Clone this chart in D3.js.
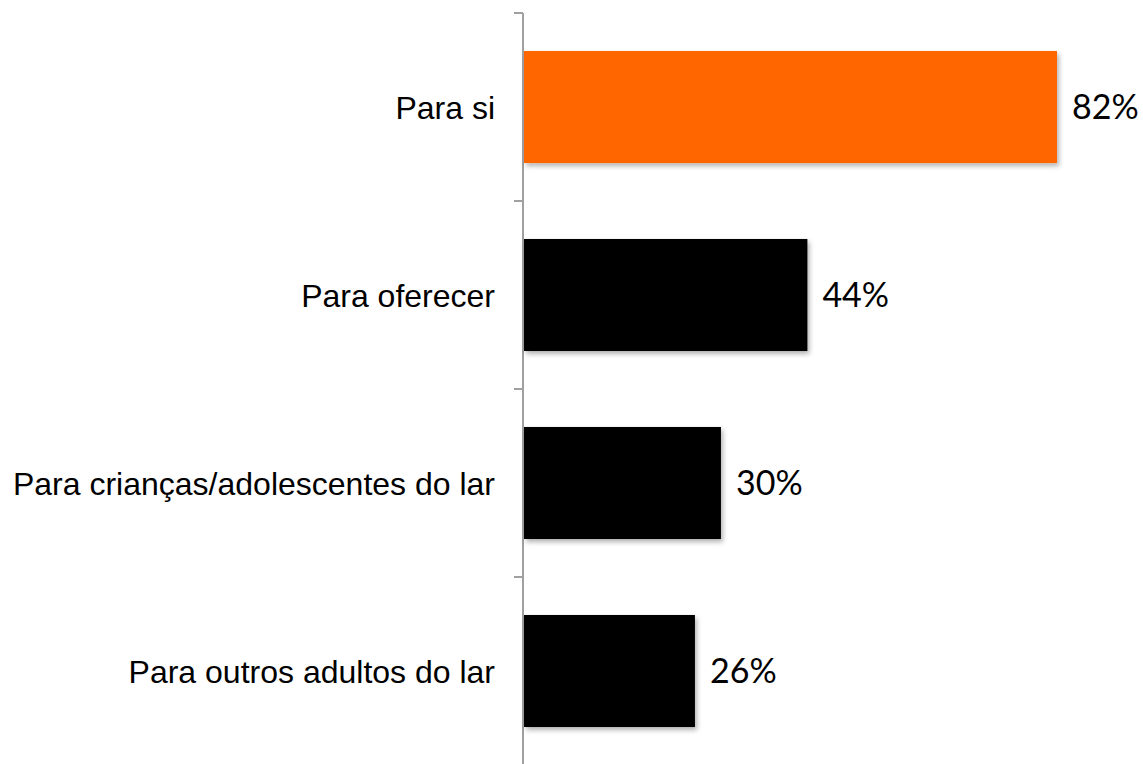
<!DOCTYPE html>
<html><head><meta charset="utf-8">
<script src="https://cdn.jsdelivr.net/npm/d3@7"></script>
<style>html,body{margin:0;padding:0;background:#fff;}svg{display:block;}</style>
</head><body>
<svg id="chart" width="1143" height="764"></svg>
<script>
const categories = ["Para si", "Para oferecer", "Para crianças/adolescentes do lar", "Para outros adultos do lar"];
const values = [82, 43.6, 30.3, 26.3];
const barColors = ["#FF6600", "#000000", "#000000", "#000000"];
const valueLabels = ["82%", "44%", "30%", "26%"];

const svg = d3.select("#chart");
const defs = svg.append("defs");
const f = defs.append("filter").attr("id","shadow").attr("x","-10%").attr("y","-10%").attr("width","130%").attr("height","140%");
f.append("feDropShadow").attr("dx",2).attr("dy",3).attr("stdDeviation",2.5).attr("flood-color","#000").attr("flood-opacity",0.3);

const x0 = 524;
const x = d3.scaleLinear().domain([0, 82]).range([x0, 1057]);
const y = d3.scaleBand().domain(categories).range([13, 765]).paddingInner(0.404).paddingOuter(0.202);

// axis
const axisG = svg.append("g").attr("transform", `translate(523,0)`);
axisG.append("line").attr("x1",0).attr("x2",0).attr("y1",13).attr("y2",765).attr("stroke","#a0a0a0").attr("stroke-width",2);
const step = y.step();
const tickYs = d3.range(categories.length + 1).map(i => 13 + i * step);
axisG.selectAll("line.tick").data(tickYs).join("line").attr("class","tick")
  .attr("x1",-9).attr("x2",0).attr("y1",d=>d).attr("y2",d=>d).attr("stroke","#a0a0a0").attr("stroke-width",2);

// bars
svg.selectAll("rect.bar").data(categories).join("rect").attr("class","bar")
  .attr("x", x0).attr("y", d => y(d))
  .attr("width", (d,i) => x(values[i]) - x0)
  .attr("height", y.bandwidth())
  .attr("fill", (d,i) => barColors[i])
  .attr("filter","url(#shadow)");

// category labels
svg.selectAll("text.cat").data(categories).join("text").attr("class","cat")
  .attr("x", 495).attr("y", d => y(d) + y.bandwidth()/2)
  .attr("dy","0.36em").attr("text-anchor","end")
  .attr("font-family","Liberation Sans, Arial, sans-serif").attr("font-size",32).attr("fill","#000")
  .text(d => d);

// value labels
svg.selectAll("text.val").data(categories).join("text").attr("class","val")
  .attr("x", (d,i) => x(values[i]) + 15).attr("y", d => y(d) + y.bandwidth()/2)
  .attr("dy","0.36em").attr("text-anchor","start")
  .attr("font-family","Lato, 'Open Sans', sans-serif").attr("font-size",34).attr("fill","#000")
  .text((d,i) => valueLabels[i]);
</script>
</body></html>
